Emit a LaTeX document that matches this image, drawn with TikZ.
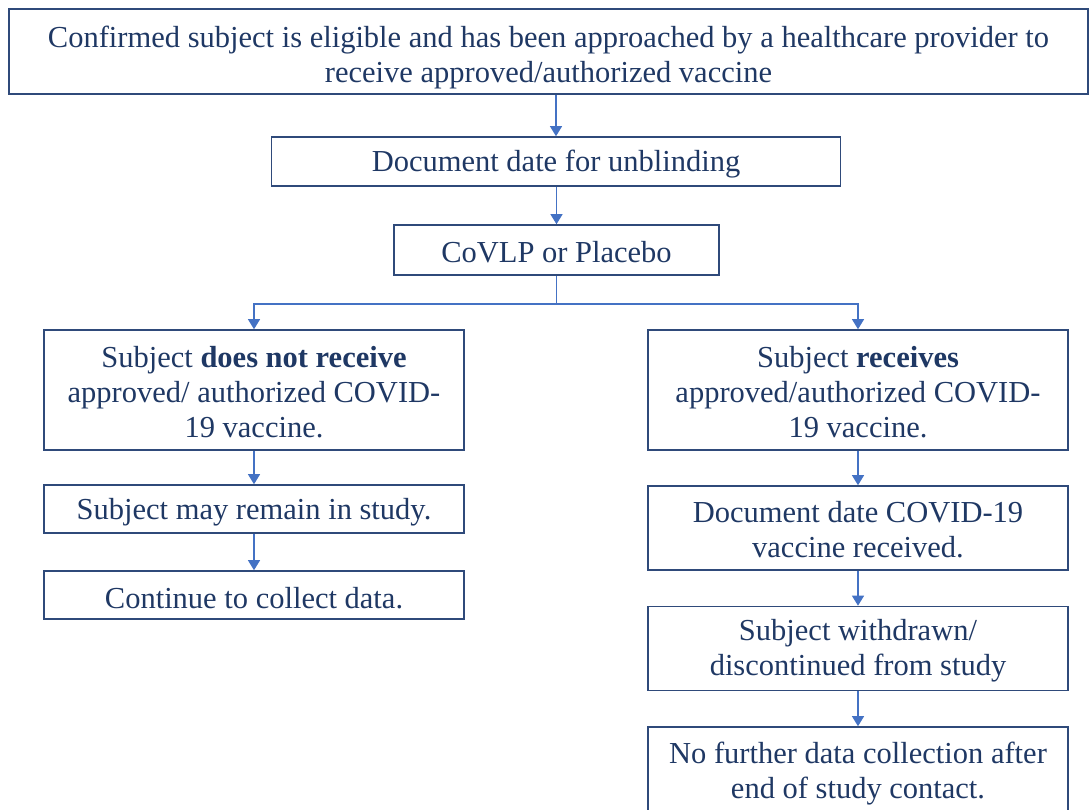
\documentclass[tikz,border=0pt]{standalone}
\usepackage{fontspec}
\setmainfont{Liberation Serif}
\usetikzlibrary{arrows.meta}
\definecolor{txt}{HTML}{1F3864}
\definecolor{bord}{HTML}{2F4A7A}
\definecolor{conn}{HTML}{4472C4}
\tikzset{
  box/.style={draw=bord, line width=1.6pt, inner sep=0pt, anchor=center},
  lbl/.style={text=txt, align=center, inner sep=0pt,
    font=\fontsize{30.5}{35}\selectfont, anchor=center},
  conline/.style={draw=conn, line width=1.1pt},
  arr/.style={conline, -{Triangle[length=10pt,width=12pt]}}
}
\begin{document}
\begin{tikzpicture}[x=1pt,y=-1pt]
\useasboundingbox (0,0) rectangle (1092,809);
\node[box, minimum width=1079pt, minimum height=85pt] (top) at (548.5,51.5) {};
\node[lbl] (topt) at ([yshift=-6.5pt]top.center)
  {Confirmed subject is eligible and has been approached by a healthcare provider to\\receive approved/authorized vaccine};
\node[box, minimum width=569pt, minimum height=49pt] (doc) at (556,161.5) {};
\node[lbl] (doct) at ([yshift=-3pt]doc.center) {Document date for unblinding};
\node[box, minimum width=325pt, minimum height=50pt] (cov) at (556.5,250) {};
\node[lbl] (covt) at ([yshift=-2pt]cov.center) {CoVLP or Placebo};
\node[box, minimum width=420pt, minimum height=120pt] (left) at (254,390) {};
\node[lbl] (leftt) at ([yshift=-2pt]left.center)
  {Subject \textbf{does not receive}\\approved/ authorized COVID-\\19 vaccine.};
\node[box, minimum width=420pt, minimum height=48pt] (remain) at (254,509) {};
\node[lbl] (remaint) at ([yshift=-3pt]remain.center) {Subject may remain in study.};
\node[box, minimum width=420pt, minimum height=48pt] (cont) at (254,595) {};
\node[lbl] (contt) at ([yshift=-3pt]cont.center) {Continue to collect data.};
\node[box, minimum width=420pt, minimum height=120pt] (right) at (858,390) {};
\node[lbl] (rightt) at ([yshift=-2pt]right.center)
  {Subject \textbf{receives}\\approved/authorized COVID-\\19 vaccine.};
\node[box, minimum width=420pt, minimum height=84pt] (ddate) at (858,528) {};
\node[lbl] (ddatet) at ([yshift=-2pt]ddate.center) {Document date COVID-19\\vaccine received.};
\node[box, minimum width=420pt, minimum height=84pt] (withd) at (858,648.5) {};
\node[lbl] (withdt) at ([yshift=-2pt]withd.center) {Subject withdrawn/\\discontinued from study};
\node[box, minimum width=420pt, minimum height=86pt] (last) at (858,770) {};
\node[lbl] (lastt) at ([yshift=-3.5pt]last.center) {No further data collection after\\end of study contact.};
\coordinate (split) at (556.5,304);
\draw[arr] (top.south -| doc.north) -- (doc.north);
\draw[arr] (doc.south -| cov.north) -- (cov.north);
\draw[conline] (cov.south) -- (split);
\draw[arr] (split) -| (left.north);
\draw[arr] (split) -| (right.north);
\draw[arr] (left.south) -- (remain.north);
\draw[arr] (remain.south) -- (cont.north);
\draw[arr] (right.south) -- (ddate.north);
\draw[arr] (ddate.south) -- (withd.north);
\draw[arr] (withd.south) -- (last.north);
\end{tikzpicture}
\end{document}
